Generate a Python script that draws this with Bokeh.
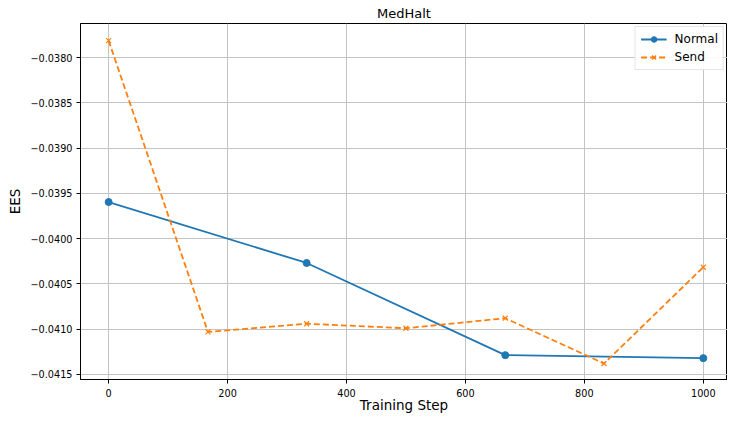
from bokeh.plotting import figure
from bokeh.models import Range1d, FixedTicker, Legend, CustomJSTickFormatter
from bokeh.embed import file_html
from bokeh.resources import INLINE

# Data
steps_normal = [0, 333, 667, 1000]
ees_normal = [-0.039596, -0.040269, -0.041287, -0.041320]
steps_send = [0, 167, 333, 500, 667, 833, 1000]
ees_send = [-0.037813, -0.041030, -0.040940, -0.040990, -0.040879, -0.041380, -0.040316]

x_ticks = [0, 200, 400, 600, 800, 1000]
y_ticks = [-0.0380, -0.0385, -0.0390, -0.0395, -0.0400, -0.0405, -0.0410, -0.0415]
x_title = "Training Step"
y_title = "EES"
chart_title = "MedHalt"

FONT = "DejaVu Sans"
BLUE = "#1f77b4"
ORANGE = "#ff7f0e"

p = figure(width=727, height=415, output_backend="svg", toolbar_location=None,
           x_range=Range1d(-47.3, 1040.7), y_range=Range1d(-0.041556, -0.037624),
           min_border_left=80, min_border_right=0, min_border_top=0,
           min_border_bottom=0, title=chart_title)

p.title.align = "center"
p.title.text_font = FONT
p.title.text_font_size = "13px"
p.title.text_font_style = "normal"
p.title.text_color = "#000000"
p.title.standoff = 6
p.title.offset = 0
p.title.text_line_height = 1.0

p.outline_line_color = "#000000"
p.outline_line_width = 1
p.background_fill_color = "white"
p.border_fill_color = "white"

for ax in (p.xaxis[0], p.yaxis[0]):
    ax.axis_line_color = "#000000"
    ax.major_tick_line_color = "#000000"
    ax.major_tick_out = 4
    ax.major_tick_in = 0
    ax.minor_tick_line_color = None
    ax.major_label_text_font = FONT
    ax.major_label_text_font_size = "9.7px"
    ax.major_label_text_color = "#000000"
    ax.major_label_text_line_height = 1.0
    ax.axis_label_text_font = FONT
    ax.axis_label_text_font_size = "13.5px"
    ax.axis_label_text_font_style = "normal"
    ax.axis_label_text_color = "#000000"
    ax.axis_label_text_line_height = 1.0

p.xaxis.ticker = FixedTicker(ticks=x_ticks)
p.yaxis.ticker = FixedTicker(ticks=y_ticks)
p.yaxis.formatter = CustomJSTickFormatter(
    code="return tick.toFixed(4).replace('-', '\\u2212');")
p.xaxis.axis_label = x_title
p.yaxis.axis_label = y_title
p.xaxis.major_label_standoff = 5
p.xaxis.axis_label_standoff = -3
p.yaxis.major_label_standoff = 4
p.yaxis.axis_label_standoff = 4

p.xgrid.grid_line_color = "#c4c4c4"
p.ygrid.grid_line_color = "#c4c4c4"
p.xgrid.grid_line_width = 1
p.ygrid.grid_line_width = 1

l1 = p.line(steps_normal, ees_normal, line_color=BLUE, line_width=1.8)
m1 = p.scatter(steps_normal, ees_normal, marker="circle", size=7,
               fill_color=BLUE, line_color=BLUE)
l2 = p.line(steps_send, ees_send, line_color=ORANGE, line_width=1.8, line_dash="6 3")
m2 = p.scatter(steps_send, ees_send, marker="x", size=7, line_color=ORANGE, line_width=1.2)

legend = Legend(items=[("Normal", [l1, m1]), ("Send", [l2, m2])],
                location="top_right")
legend.label_text_font = FONT
legend.label_text_font_size = "12px"
legend.label_text_color = "#000000"
legend.label_standoff = 8
legend.glyph_width = 26
legend.glyph_height = 14
legend.label_height = 14
legend.spacing = 4
legend.padding = 5
legend.margin = 3
legend.border_line_color = "#cccccc"
legend.border_line_width = 1
legend.background_fill_alpha = 0.9
p.add_layout(legend)

open("out.html", "w").write(file_html(p, INLINE))
